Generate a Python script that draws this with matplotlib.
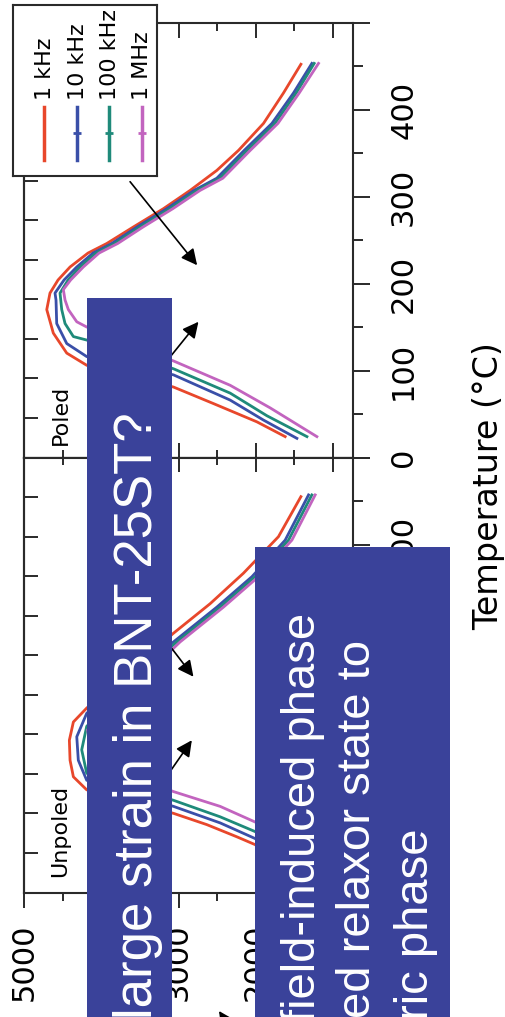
import numpy as np
import matplotlib.pyplot as plt
from matplotlib.patches import Rectangle
from matplotlib.ticker import MultipleLocator, FixedLocator

freqs = ['1 kHz', '10 kHz', '100 kHz', '1 MHz']
colors = ['#e8472b', '#3a4fa8', '#1f8a7a', '#c264bf']

# poled sample, temperature (C) vs permittivity
poled_T_1k = [452, 419, 384, 353, 330, 307, 286, 265, 246, 235, 219, 204, 189, 170, 143, 120, 106, 81, 62, 41, 24]
poled_eps_1k = [1415, 1641, 1900, 2224, 2505, 2851, 3197, 3586, 3931, 4174, 4407, 4563, 4667, 4709, 4624, 4450,
                4191, 3067, 2549, 1986, 1619]
poled_T_10k = [453, 419, 384, 353, 321, 307, 286, 265, 246, 235, 219, 204, 189, 181, 154, 131, 116, 95, 66, 43, 22]
poled_eps_10k = [1273, 1511, 1791, 2150, 2505, 2800, 3153, 3538, 3866, 4109, 4320, 4485, 4602, 4589, 4580, 4450,
                 4191, 3067, 2332, 1900, 1467]
poled_T_100k = [453, 419, 384, 353, 321, 307, 286, 265, 246, 235, 219, 204, 189, 170, 154, 139, 135, 102, 74, 48, 24]
poled_eps_100k = [1243, 1476, 1752, 2111, 2466, 2761, 3114, 3500, 3828, 4070, 4278, 4433, 4537, 4515, 4472, 4364,
                  4191, 3067, 2332, 1856, 1337]
poled_T_1M = [453, 419, 384, 353, 321, 307, 286, 265, 246, 235, 219, 204, 193, 181, 170, 156, 150, 111, 83, 57, 24]
poled_eps_1M = [1187, 1437, 1713, 2072, 2427, 2722, 3075, 3460, 3789, 4031, 4235, 4400, 4494, 4472, 4429, 4320,
                4191, 3067, 2332, 1813, 1208]

# unpoled sample
unpoled_T_1k = [455, 409, 367, 332, 298, 246, 212, 196, 175, 152, 133, 118, 91, 78, 64, 55, 40, 25]
unpoled_eps_1k = [1415, 1706, 2160, 2591, 3067, 3750, 4191, 4364, 4416, 4407, 4364, 4191, 3067, 2634, 2245, 2008,
                  1800, 1620]
unpoled_T_10k = [457, 405, 363, 328, 288, 245, 206, 179, 152, 129, 99, 80, 62, 45, 25]
unpoled_eps_10k = [1316, 1619, 2050, 2505, 3067, 3700, 4191, 4320, 4300, 4191, 3067, 2462, 2008, 1750, 1500]
unpoled_T_100k = [457, 405, 363, 328, 288, 240, 191, 164, 137, 106, 87, 70, 50, 25]
unpoled_eps_100k = [1273, 1576, 2008, 2462, 3024, 3650, 4191, 4256, 4191, 3067, 2462, 2008, 1700, 1400]
unpoled_T_1M = [457, 405, 363, 328, 288, 235, 187, 152, 116, 99, 81, 60, 25]
unpoled_eps_1M = [1230, 1532, 1965, 2419, 2981, 3600, 4180, 4100, 3067, 2462, 2008, 1650, 1250]

poled = [(poled_eps_1k, poled_T_1k), (poled_eps_10k, poled_T_10k),
         (poled_eps_100k, poled_T_100k), (poled_eps_1M, poled_T_1M)]
unpoled = [(unpoled_eps_1k, unpoled_T_1k), (unpoled_eps_10k, unpoled_T_10k),
           (unpoled_eps_100k, unpoled_T_100k), (unpoled_eps_1M, unpoled_T_1M)]

box_color = '#3a429a'
ink = '#2a2a2a'
W, H = 506, 1017


def px_box(x0, y0, x1, y1):
    return [x0 / W, 1 - y1 / H, (x1 - x0) / W, (y1 - y0) / H]


fig = plt.figure(figsize=(W / 100, H / 100), dpi=100)
ax_p = fig.add_axes(px_box(24.3, 22.5, 353, 457.5))
ax_u = fig.add_axes(px_box(24.3, 457.5, 353, 892.5))

for ax, curves in ((ax_p, poled), (ax_u, unpoled)):
    for (eps, T), c in zip(curves, colors):
        ax.plot(eps, T, color=c, lw=2, solid_joinstyle='round')
    ax.set_xlim(5000, 740)
    ax.set_ylim(0, 500)
    ax.xaxis.set_major_locator(MultipleLocator(1000))
    ax.xaxis.set_minor_locator(MultipleLocator(500))
    ax.set_yticks(range(0, 501, 100))
    ax.yaxis.set_minor_locator(MultipleLocator(50))
    ax.yaxis.tick_right()
    ax.tick_params(axis='y', which='major', direction='out', length=12, width=1.4,
                   pad=14, labelsize=22, labelrotation=90, color=ink)
    ax.tick_params(axis='y', which='minor', direction='out', length=7, width=1.4, color=ink)
    for s in ax.spines.values():
        s.set_linewidth(1.5)
        s.set_color(ink)
    sec = ax.secondary_yaxis('left')
    sec.set_yticks(np.linspace(0, 500, 12))
    sec.tick_params(direction='in', length=10, width=1.4, labelleft=False, color=ink)
    sec.spines['left'].set_color(ink)
    sec.spines['left'].set_linewidth(1.5)

# labels that the slide boxes cover completely are left blank
ax_p.set_yticklabels(['0', '100', '200', '300', '400', ''])
ax_u.set_yticklabels(['', '', '', '', '400', ''])
for ax in (ax_p, ax_u):
    for lab in ax.get_yticklabels():
        lab.set_va('center')

ax_p.tick_params(axis='x', which='major', direction='in', length=11, width=1.4,
                 top=True, bottom=True, labelbottom=False, color=ink)
ax_p.tick_params(axis='x', which='minor', direction='in', length=5.5, width=1.4,
                 top=True, bottom=True, color=ink)

ax_u.set_xticks([1000, 2000, 3000, 4000, 5000])
ax_u.set_xticklabels(['', '2000', '3000', '', '5000'])
ax_u.tick_params(axis='x', which='major', direction='out', length=11, width=1.4,
                 pad=11, labelsize=22, labelrotation=90, color=ink)
ax_u.tick_params(axis='x', which='minor', direction='out', length=6, width=1.4, color=ink)
secx = ax_u.secondary_xaxis('top')
secx.xaxis.set_major_locator(MultipleLocator(1000))
secx.xaxis.set_minor_locator(MultipleLocator(500))
secx.tick_params(which='major', direction='in', length=11, width=1.4, labeltop=False, color=ink)
secx.tick_params(which='minor', direction='in', length=5.5, width=1.4, color=ink)

ax_p.text(4524, 14, 'Poled', rotation=90, rotation_mode='anchor', ha='left', va='center', fontsize=16)
ax_u.text(4537, 18, 'Unpoled', rotation=90, rotation_mode='anchor', ha='left', va='center', fontsize=16)

arrow = dict(arrowstyle='-|>', color='black', lw=1.2, mutation_scale=24, shrinkA=0, shrinkB=0)
ax_p.annotate('', xy=(2760, 221), xytext=(3629, 317), arrowprops=arrow)
ax_p.annotate('', xy=(2743, 156), xytext=(3370, 87), arrowprops=arrow)
ax_u.annotate('', xy=(2808, 248), xytext=(3369, 313), arrowprops=arrow)
ax_u.annotate('', xy=(2829, 175), xytext=(3370, 106), arrowprops=arrow)

# legend, drawn by hand because the figure is turned on its side
lax = fig.add_axes(px_box(13, 5, 157, 176))
lax.set_xlim(13, 157)
lax.set_ylim(176, 5)
lax.set_xticks([])
lax.set_yticks([])
for s in lax.spines.values():
    s.set_linewidth(1.5)
    s.set_color(ink)
for i, (name, c) in enumerate(zip(freqs, colors)):
    lx = 44 + i * 32.5
    lax.plot([lx, lx], [107, 160], color=c, lw=2.5)
    if i > 0:
        lax.plot([lx], [133], marker='_', ms=6, mew=2, color=c)
    lax.text(lx + 1, 100, name, rotation=90, rotation_mode='anchor', ha='left', va='center', fontsize=16)

# slide overlay in pixel coordinates
ov = fig.add_axes([0, 0, 1, 1], zorder=10)
ov.set_xlim(0, W)
ov.set_ylim(H, 0)
ov.axis('off')
ov.patch.set_visible(False)
ov.add_patch(Rectangle((87, 298), 85, 760, color=box_color, lw=0))
ov.add_patch(Rectangle((255, 547), 195, 520, color=box_color, lw=0))
ov.text(152, 412, 'large strain in BNT-25ST?', rotation=90, rotation_mode='anchor',
        ha='right', va='baseline', color='white', fontsize=38, family='Liberation Sans')
for bx, by, line in [(315, 613, 'field-induced phase'), (370, 640, 'ed relaxor state to'),
                     (428, 828, 'ric phase')]:
    ov.text(bx, by, line, rotation=90, rotation_mode='anchor', ha='right', va='baseline',
            color='white', fontsize=34, family='Liberation Sans')
ov.annotate('', xy=(219, 1011), xytext=(245, 1050), arrowprops=arrow)
ov.text(489, 486, 'Temperature (°C)', rotation=90, ha='center', va='center', fontsize=24)

fig.savefig('out.png', dpi=100)
